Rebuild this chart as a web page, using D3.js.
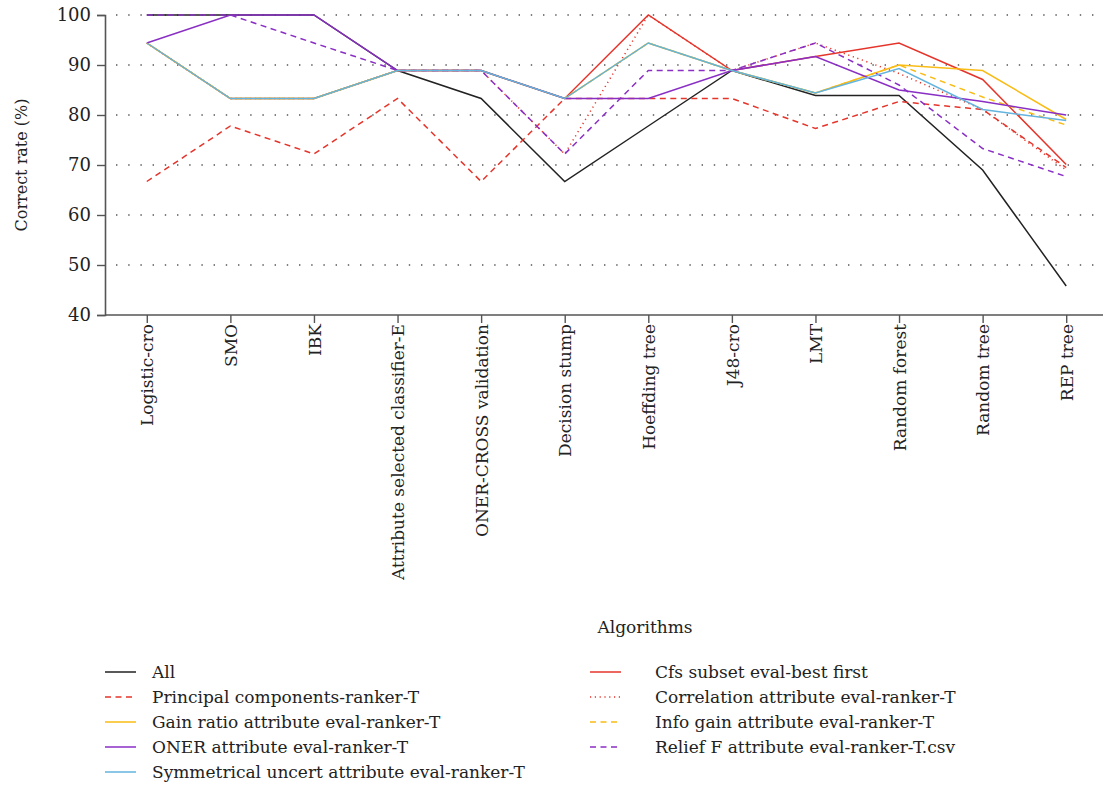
<!DOCTYPE html>
<html>
<head>
<meta charset="utf-8">
<script src="https://cdn.jsdelivr.net/npm/d3@7"></script>
<style>
  html, body { margin: 0; padding: 0; background: #fff; }
  svg text { font-family: "DejaVu Serif", "Liberation Serif", serif; fill: #222; }
</style>
</head>
<body>
<svg id="chart" width="1103" height="795"></svg>
<script>
// Classifier algorithms on the x axis
const algorithms = [
  "Logistic-cro", "SMO", "IBK", "Attribute selected classifier-E",
  "ONER-CROSS validation", "Decision stump", "Hoeffding tree", "J48-cro",
  "LMT", "Random forest", "Random tree", "REP tree"
];

// Correct rate (%) per attribute-selection method
const allAttrs      = [100, 100, 100, 88.9, 83.3, 66.7, 77.8, 88.9, 83.9, 83.9, 69.0, 45.8];
const cfsSubset     = [94.4, 83.3, 83.3, 88.9, 88.9, 83.3, 100, 88.9, 91.7, 94.4, 87.1, 70.1];
const principalComp = [66.7, 77.8, 72.2, 83.3, 66.7, 83.3, 83.3, 83.3, 77.3, 82.7, 81.1, 69.5];
const correlation   = [94.4, 83.3, 83.3, 88.9, 88.9, 72.2, 100, 88.9, 94.4, 88.3, 81.1, 69.0];
const gainRatio     = [94.4, 83.3, 83.3, 88.9, 88.9, 83.3, 94.4, 88.9, 84.4, 90.0, 88.9, 79.1];
const infoGain      = [94.4, 83.3, 83.3, 88.9, 88.9, 83.3, 94.4, 88.9, 84.4, 90.0, 83.6, 78.0];
const onerAttr      = [94.4, 100, 100, 88.9, 88.9, 83.3, 83.3, 88.9, 91.7, 85.0, 82.7, 80.0];
const reliefF       = [100, 100, 94.4, 88.9, 88.9, 72.2, 88.9, 88.9, 94.4, 86.0, 73.3, 67.7];
const symUncert     = [94.4, 83.3, 83.3, 88.9, 88.9, 83.3, 94.4, 88.9, 84.4, 89.3, 81.1, 78.9];

const yTicks = [40, 50, 60, 70, 80, 90, 100];

const seriesNames = [
  "All", "Cfs subset eval-best first",
  "Principal components-ranker-T", "Correlation attribute eval-ranker-T",
  "Gain ratio attribute eval-ranker-T", "Info gain attribute eval-ranker-T",
  "ONER attribute eval-ranker-T", "Relief F attribute eval-ranker-T.csv",
  "Symmetrical uncert attribute eval-ranker-T"
];
const seriesValues = [allAttrs, cfsSubset, principalComp, correlation, gainRatio,
                      infoGain, onerAttr, reliefF, symUncert];

// Visual style per series
const RED = "#e5352b", GOLD = "#f9bc15", PURPLE = "#8a2fc4", BLUE = "#63b4de";
const styles = [
  { color: "#222222", dash: null },
  { color: RED, dash: null },
  { color: RED, dash: "6,4.5" },
  { color: RED, dash: "1.2,3.6" },
  { color: GOLD, dash: null },
  { color: GOLD, dash: "6,4.5" },
  { color: PURPLE, dash: null },
  { color: PURPLE, dash: "6,4.5" },
  { color: BLUE, dash: null }
];

const svg = d3.select("#chart");

const x = d3.scalePoint().domain(algorithms).range([105, 1108]).padding(0.5);
const y = d3.scaleLinear().domain([40, 100]).range([315, 15]);

// Dotted horizontal gridlines
svg.append("g")
  .selectAll("line")
  .data(yTicks.filter(d => d > 40))
  .join("line")
  .attr("x1", 116).attr("x2", 1096)
  .attr("y1", d => y(d)).attr("y2", d => y(d))
  .attr("stroke", "#555")
  .attr("stroke-width", 1.4)
  .attr("stroke-dasharray", "1.4,10.8");

// Y axis
const yAxis = svg.append("g")
  .attr("transform", "translate(105,0)")
  .call(d3.axisLeft(y).tickValues(yTicks).tickSize(8).tickPadding(6));
yAxis.select(".domain").attr("stroke", "#555").attr("stroke-width", 1.6);
yAxis.selectAll(".tick line").attr("stroke", "#555").attr("stroke-width", 1.4);
yAxis.selectAll(".tick text")
  .style("font-family", "'DejaVu Serif', serif")
  .style("font-size", "18px")
  .attr("fill", "#222");

// X axis
const xAxis = svg.append("g")
  .attr("transform", "translate(0,315)")
  .call(d3.axisBottom(x).tickSize(8).tickSizeOuter(0));
xAxis.select(".domain").attr("stroke", "#555").attr("stroke-width", 1.6)
  .attr("d", "M105,0H1103");
xAxis.selectAll(".tick line").attr("stroke", "#555").attr("stroke-width", 1.4);
xAxis.selectAll(".tick text")
  .style("font-family", "'DejaVu Serif', serif")
  .style("font-size", "17px")
  .attr("fill", "#222")
  .attr("text-anchor", "end")
  .attr("transform", "rotate(-90)")
  .attr("x", -9)
  .attr("y", 0)
  .attr("dy", "0.36em");

// Axis titles
svg.append("text")
  .attr("transform", "translate(27,165) rotate(-90)")
  .attr("text-anchor", "middle")
  .style("font-size", "16px")
  .text("Correct rate (%)");

svg.append("text")
  .attr("x", 645).attr("y", 633)
  .attr("text-anchor", "middle")
  .style("font-size", "17px")
  .text("Algorithms");

// Series lines
const line = d3.line()
  .x((d, i) => x(algorithms[i]))
  .y(d => y(d));

svg.append("g")
  .selectAll("path")
  .data(seriesValues)
  .join("path")
  .attr("d", d => line(d))
  .attr("fill", "none")
  .attr("stroke", (d, i) => styles[i].color)
  .attr("stroke-width", 1.5)
  .attr("stroke-dasharray", (d, i) => styles[i].dash)
  .attr("stroke-linejoin", "miter");

// Legend: two columns, filled row by row
const legend = svg.append("g");
const item = legend.selectAll("g")
  .data(seriesNames)
  .join("g")
  .attr("transform", (d, i) => {
    const col = i % 2, row = Math.floor(i / 2);
    return `translate(${col === 0 ? 105 : 590},${672 + row * 25})`;
  });
item.append("line")
  .attr("x1", 0).attr("x2", 31)
  .attr("y1", 0).attr("y2", 0)
  .attr("stroke", (d, i) => styles[i].color)
  .attr("stroke-width", 1.5)
  .attr("stroke-dasharray", (d, i) => styles[i].dash);
item.append("text")
  .attr("x", (d, i) => (i % 2 === 0 ? 47 : 65))
  .attr("y", 0)
  .attr("dy", "0.35em")
  .style("font-size", "17px")
  .text(d => d);
</script>
</body>
</html>
